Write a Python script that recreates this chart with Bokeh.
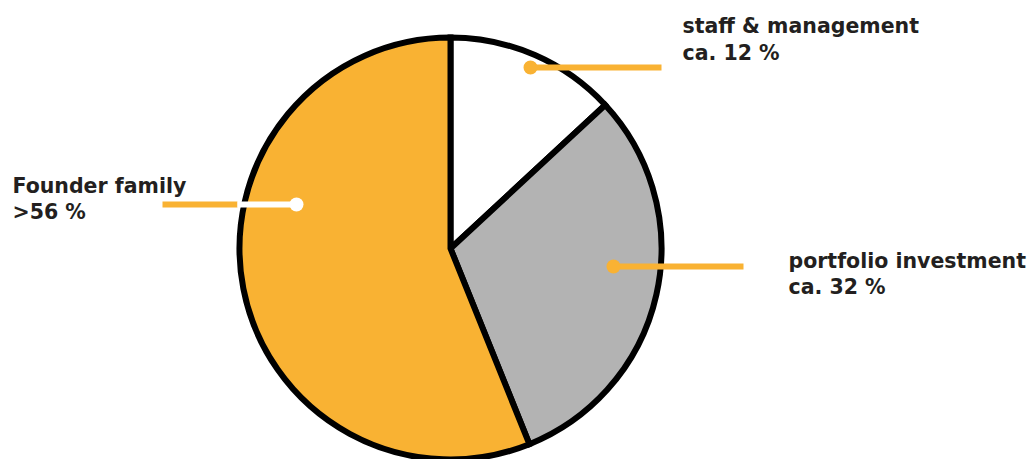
import math
from bokeh.plotting import figure
from bokeh.models import Range1d, ColumnDataSource
from bokeh.embed import file_html
from bokeh.resources import INLINE
from bokeh.core.properties import value

# ---- data ----
categories = ["staff & management", "portfolio investment", "Founder family"]
shares = [13.1, 30.8, 56.1]          # drawn slice sizes (percent)
label_line1 = ["staff & management", "portfolio investment", "Founder family"]
label_line2 = ["ca. 12 %", "ca. 32 %", ">56 %"]
colors = ["#FFFFFF", "#B3B3B3", "#F9B233"]

ORANGE = "#F9B233"
TEXT = "#231F20"

W, H = 1031, 459
def sy(y):  # screen y -> data y
    return 459 - y

p = figure(width=W, height=H, x_range=Range1d(0, W), y_range=Range1d(sy(H), sy(0)),
           output_backend="svg", toolbar_location=None, x_axis_type=None, y_axis_type=None,
           min_border=0, outline_line_color=None, background_fill_color="white",
           border_fill_color="white")
p.grid.visible = False

# pie wedges, clockwise from top
total = sum(shares)
starts, ends = [], []
a = math.pi / 2
for s in shares:
    starts.append(a)
    a = a - s / total * 2 * math.pi
    ends.append(a)
src = ColumnDataSource(dict(cat=categories, start=starts, end=ends, color=colors))
cx, cy, r = 450, sy(248), 211
p.wedge(x=cx, y=cy, radius=r, start_angle="start", end_angle="end", direction="clock",
        fill_color="color", line_color="black", line_width=6, line_join="miter", source=src)

# connectors
# staff & management
p.line(x=[530, 661], y=[sy(67), sy(67)], line_color=ORANGE, line_width=6, line_cap="butt")
p.scatter(x=[530], y=[sy(67)], size=14, fill_color=ORANGE, line_color=None)
# portfolio investment
p.line(x=[613, 743], y=[sy(266), sy(266)], line_color=ORANGE, line_width=6, line_cap="butt")
p.scatter(x=[613], y=[sy(266)], size=14, fill_color=ORANGE, line_color=None)
# founder family
p.line(x=[162, 237], y=[sy(204), sy(204)], line_color=ORANGE, line_width=6, line_cap="butt")
p.line(x=[237, 296], y=[sy(204), sy(204)], line_color="white", line_width=6, line_cap="butt")
p.scatter(x=[296], y=[sy(204)], size=14, fill_color="white", line_color=None)

# labels
lx = [682, 788, 12]
ly1 = [sy(25), sy(260), sy(185)]
ly2 = [sy(52), sy(286), sy(211)]
tsrc = ColumnDataSource(dict(x=lx, y1=ly1, y2=ly2, t1=label_line1, t2=label_line2))
for yk, tk in (("y1", "t1"), ("y2", "t2")):
    p.text(x="x", y=yk, text=tk, source=tsrc, text_font=value("DejaVu Sans"),
           text_font_style="bold", text_font_size="20.5px", text_color=TEXT,
           text_baseline="alphabetic", text_align="left")

open("out.html", "w").write(file_html(p, INLINE))
